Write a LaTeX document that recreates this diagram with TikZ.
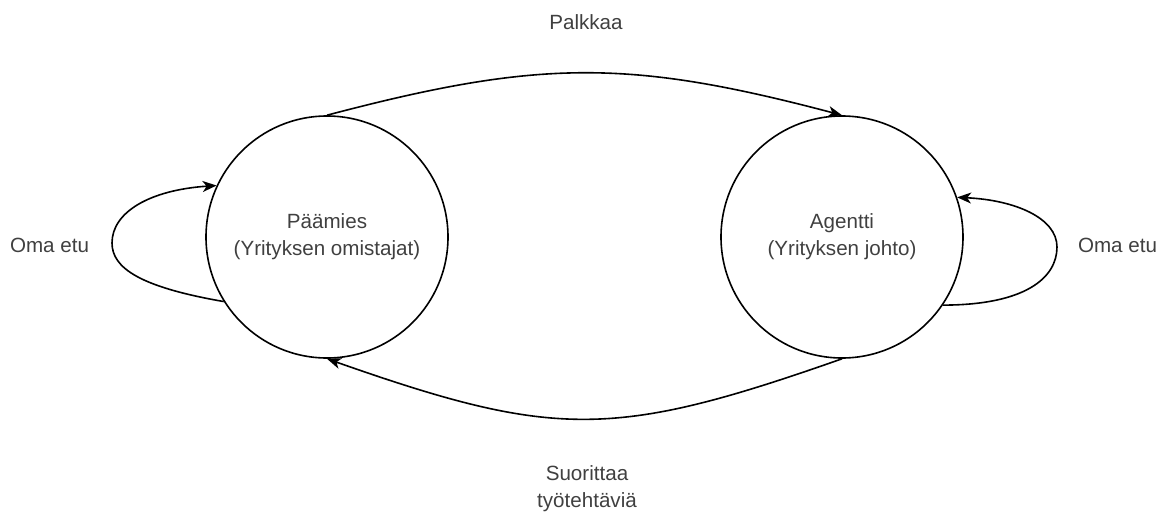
\documentclass[tikz,border=0pt]{standalone}
\usepackage{fontspec}
\setmainfont{Liberation Sans}
\usetikzlibrary{arrows.meta}
\definecolor{txt}{gray}{0.25}
\tikzset{
  state/.style={circle, draw=black, line width=1.6pt, minimum size=242pt, inner sep=0pt,
    text=txt, align=center, font=\fontsize{20.6}{27}\selectfont},
  lbl/.style={text=txt, align=center, font=\fontsize{20.6}{27}\selectfont, inner sep=0pt},
  edge/.style={draw=black, line width=1.6pt, -{Stealth[length=14pt, width=11pt, inset=4pt]}}
}
\begin{document}
\begin{tikzpicture}[x=1pt, y=-1pt]
\useasboundingbox (0,0) rectangle (1168,512);
\node[state] (L) at (327,237) {Päämies\\(Yrityksen omistajat)};
\node[state] (R) at (842,237) {Agentti\\(Yrityksen johto)};
\node[lbl] (palkkaa) at (586,22) {Palkkaa};
\node[lbl] (suor) at (587,489) {Suorittaa\\työtehtäviä};
\node[lbl] (omaL) at (49.5,245) {Oma etu};
\node[lbl] (omaR) at (1117.5,245) {Oma etu};
% top arc
\draw[edge] (L.north) .. controls (540,59) and (629,59) .. (R.north);
% bottom arc
\draw[edge] (R.south) .. controls (614,439) and (555,439) .. (L.south);
% left self loop
\coordinate (lm) at (112,243);
\coordinate (rm) at (1057,247);
\draw[edge] (L.212.4) .. controls (140,287) and (112,268) .. (lm)
  .. controls (112,212) and (150,190) .. (L.155.1);
% right self loop
\draw[edge] (R.-34.2) .. controls (1025,305) and (1057,278) .. (rm)
  .. controls (1057,218) and (1015,200) .. (R.19.9);
\end{tikzpicture}
\end{document}
